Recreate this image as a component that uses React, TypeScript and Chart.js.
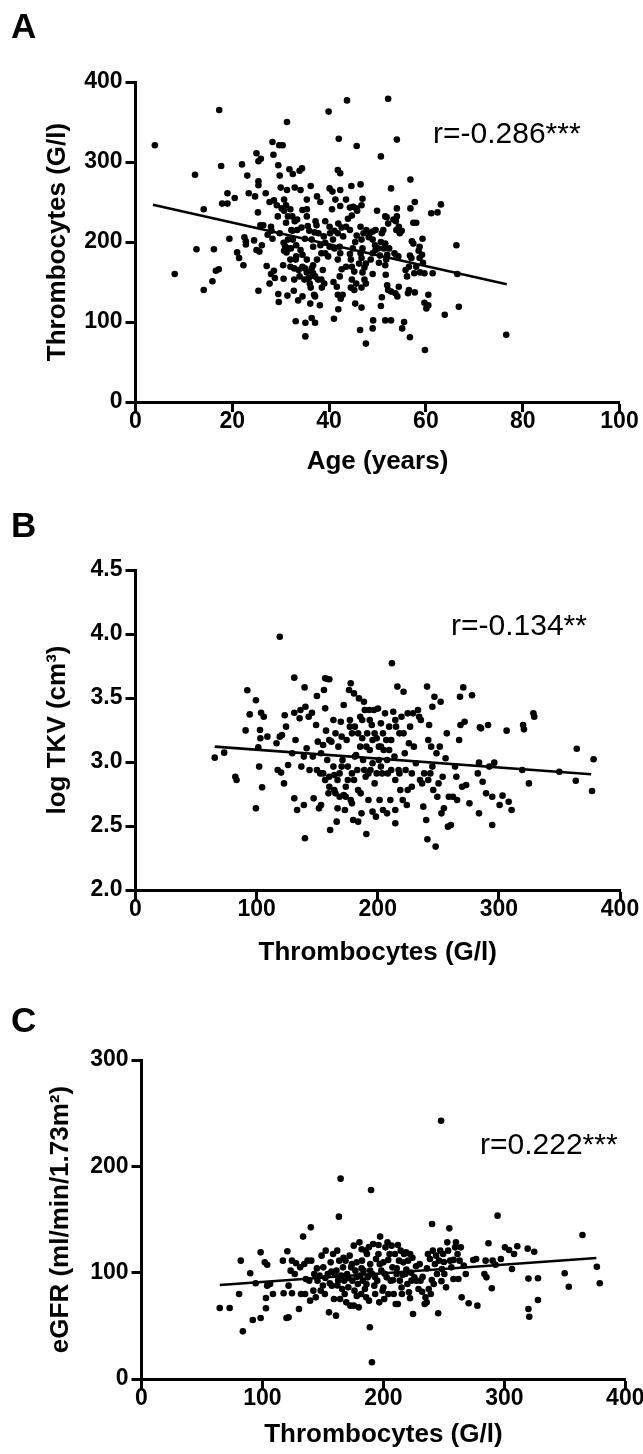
import React, { useEffect, useRef } from "react";
import { Chart, registerables } from "chart.js";
Chart.register(...registerables);

const FONT = "'Liberation Sans', Arial, Helvetica, sans-serif";

// ---------- Panel A: Age (years) vs Thrombocytes (G/l) ----------
const xTicksA = [0, 20, 40, 60, 80, 100];
const yTicksA = [0, 100, 200, 300, 400];
const pointsA: [number, number][] = [
  [4,321],[17.3,365],[31.3,350],[39.9,363],[43.7,377],[52.2,379],[42,329],[45.7,320],[54,328],[50.7,307],
  [12.3,284],[17.7,295],[22,297],[23.1,283],[25,311],[25.4,301],[25.9,304],[28.3,325],[28.5,309],[29.7,321],
  [30.4,321],[29.5,296],[29.8,283],[31.8,291],[32.5,285],[34.4,292],[33.9,289],[41.8,290],[42.3,286],[52.8,267],
  [56.8,278],[46.5,272],[44.6,270],[30,268],[31.3,265],[32.9,268],[34.1,265],[36.2,270],[25.4,276],[25.4,271],
  [26.9,261],[19,261],[20.5,255],[19,248],[17.9,248],[14.1,241],[24.7,257],[25.3,237],[27.7,250],[28.6,252],
  [29.2,246],[30.2,242],[30.7,239],[31.1,246],[32,241],[35.4,253],[35.4,241],[34.5,240],[37.5,257],[38.2,250],
  [40.6,241],[40.1,267],[40.7,263],[42.3,265],[41.3,253],[43.5,253],[42.3,245],[44.3,243],[45.6,242],[46.9,254],
  [46.7,246],[49.9,239],[51.6,232],[52.2,223],[54,242],[54,232],[53.8,226],[55,214],[56.8,242],[57.7,250],
  [57.4,224],[58,224],[61.1,236],[62.4,237],[63.1,247],[59.3,204],[57.4,198],[58.5,189],[59.4,174],[66.3,196],
  [66.5,160],[66.8,119],[63.9,109],[59.7,124],[60.1,117],[60.5,121],[60.5,134],[61.4,161],[59.7,161],[58.8,162],
  [59.8,65],[76.6,84],[56.7,81],[55.5,100],[55.1,92],[52.8,102],[51.6,102],[49,92],[49.1,102],[47.6,73],
  [46.4,90],[46.7,118],[45.4,123],[41,104],[41.9,116],[35.1,82],[35.1,99],[36.4,105],[37.1,99],[33.1,101],
  [33.6,127],[34.5,132],[36.1,123],[36.9,134],[38.1,121],[29.5,135],[29.6,125],[31.4,133],[32.7,139],[25.4,139],
  [14.1,140],[8.1,160],[12.6,191],[16.2,191],[15.9,151],[16.6,164],[17.2,166],[19.4,204],[21,187],[21.4,180],
  [22.3,171],[22.5,206],[22.8,201],[22.8,197],[24.5,202],[25,190],[25.6,188],[26.1,196],[25.8,221],[26.4,221],
  [27.3,209],[28,219],[28.3,204],[28.1,214],[27.1,170],[27.7,148],[28.6,164],[28.8,155],[28,160],
  [30.5,171],[30.6,154],[31.2,187],[31.5,192],[30.6,199],[30.7,189],[32,178],[32.1,192],[33.1,178],[32.8,153],
  [33.9,157],[34.9,153],[36,148],[32.2,215],[32.9,226],[33.4,215],[34.3,218],[35.6,220],[35.9,214],[35,204],
  [36.4,203],[37.2,226],[37.4,221],[37,212],[37.8,211],[38.9,207],[39.2,226],[40.1,219],[40.2,211],[38.4,186],
  [39.2,186],[39.8,182],[37.5,178],[36.7,171],[36.4,167],[35,167],[34.5,169],[35.4,162],[36.7,161],[37.1,157],
  [35.8,155],[37.7,153],[38.4,153],[38.7,165],[39,148],[38.5,143],[36.2,143],[37.1,132],
  [40.9,150],[41.6,144],[41.8,134],[42.4,129],[42.8,134],[42.2,157],[42.6,166],[43.5,169],[41.8,178],[42.3,186],
  [41.1,192],[42.2,194],[42.9,207],[42.6,218],[41.9,223],[43.5,219],[44.3,215],[43.9,229],[44.7,233],[45,244],
  [45.8,239],[45.7,208],[45.4,200],[44.9,192],[44.3,185],[44.5,178],[44.7,169],[45.2,163],[44.7,153],[45.6,148],
  [44.5,143],[45.2,140],[46.2,173],[46.7,180],[46.5,186],[46.9,192],[46.7,203],[47.1,211],[46.5,219],[47.7,215],
  [48.2,206],[48.4,211],[49,213],[49.6,215],[49,203],[49.5,196],[49.6,190],[49,186],[48.6,178],[47.6,173],
  [47.3,168],[46.9,162],[47.3,153],[47.6,148],[46.7,143],[49,160],[50.3,174],[50.5,183],[50.1,192],[50.7,200],
  [51.3,192],[51.6,198],[52.4,192],[52,184],[51.8,178],[51.6,171],[51.2,215],[51.9,231],[50.9,211],[53.5,186],
  [53.9,183],[54.3,182],[53.3,228],[54.4,219],[54.6,211],[53.9,215],[52,146],[52.2,140],[52.8,138],[53.7,136],
  [54.4,144],[54.1,132],[51.7,159],[50.9,131],[50.7,120],[55.8,165],[56.1,157],[56.5,169],[56.7,183],[57,180],
  [56.5,140],[56.3,136],[57.7,137],[58,169],[57.6,161],[57.1,201],
  [58.7,180],[59.2,184],[58.7,194],[23.4,261],[31.5,232],[30.7,253],[32.4,232],[29.4,232],[35.4,232],[33.4,228],
  [31.1,224],[32.4,214],[29.8,211],[31.5,203],[30.9,195],[32.5,203],[33.2,196],[34.1,190],[34.5,184],[33.2,182],
  [32,169],[32.8,167],[33.7,165],[35.4,178],[36.7,194],[38.2,196],[39.2,199],[40.1,194],[40.8,203],[41.1,214],
  [41.8,211],
];
const fitA: [number, number][] = [[3.6, 246.6], [76.7, 147.1]];

// ---------- Panel B: Thrombocytes (G/l) vs log TKV ----------
const xTicksB = [0, 100, 200, 300, 400];
const yTicksB = [2.0, 2.5, 3.0, 3.5, 4.0, 4.5];
const pointsB: [number, number][] = [
  [65.4,3.034],[73.2,3.073],[82.4,2.885],[83.4,2.859],[92.3,3.56],[94.3,3.372],[90.9,3.247],[99.4,3.482],[99.4,2.638],[101.4,3.115],
  [102.1,2.964],[103.7,3.385],[105.9,3.354],[102.8,3.25],[103.1,3.185],[108.9,3.198],[104.5,2.802],[116.4,3.146],[119.1,3.198],[120.9,3.211],
  [119.1,3.979],[123.2,3.365],[124.3,3.276],[122.6,2.833],[120.2,2.917],[117.4,2.938],[126,2.977],[129.4,3.068],[131.1,3.659],[132.1,3.172],
  [131.1,3.385],[131.1,2.716],[133.4,2.625],[135.5,3.341],[136.2,3.406],[136.9,2.964],[139,2.664],[139.6,3.583],[139.9,2.404],[140.3,3.432],
  [139,3.042],[141.3,3.107],[143,3.354],[143.7,2.938],[145.7,3.385],[147.1,2.716],[149.1,3.289],[149.8,3.516],[150.5,3.159],[151.5,2.638],
  [152.5,2.911],[153.2,3.068],[153.2,2.664],[154.9,3.133],[155.6,3.562],[156.6,3.419],[156.6,3.654],[158.3,3.648],[160,3.646],[157.3,3.245],
  [156.6,2.859],[158.3,3.016],[159.3,2.755],[160,3.172],[161.7,3.159],[160.7,2.469],[163.4,3.328],[164.1,2.898],[165.1,3.224],[166.1,2.534],
  [165.1,2.755],[166.8,2.638],[167.5,3.12],[168.5,2.911],[169.5,3.315],[170.2,3.198],[170.9,3.016],[171.9,3.445],[171.9,2.742],[172.9,2.625],
  [173.6,2.807],[174.3,3.172],[175.3,2.964],[176.3,3.562],[177,3.328],[177.7,3.615],[177.7,2.703],[178.7,2.677],[179.7,2.547],[180.4,3.536],
  [181.1,3.276],[182.1,3.055],[183.1,2.938],[183.8,2.534],[184.5,3.497],[185.5,3.354],[185.9,2.755],[186.6,2.599],[187.2,3.185],[187.9,3.016],
  [188.6,3.471],[189.3,3.406],[190,2.885],[190.6,2.438],[191.3,3.224],[192.3,2.703],[193,3.406],[193.4,3.094],[194,2.938],[195.1,3.289],
  [195.7,2.612],[196.8,3.406],[197.4,2.833],[198.5,2.573],[199.1,3.185],[200.2,3.417],[200.9,3.016],[201.5,2.703],[202.6,3.302],[203.6,2.911],
  [204.3,2.625],[204.9,3.094],[206,3.38],[207,3.172],[207.7,2.599],[208.3,2.911],[209.4,3.276],[210.4,2.703],[211.7,3.771],[212.8,3.393],
  [213.8,3.042],[214.5,2.625],[215.1,3.276],[216.2,3.589],[214.5,2.521],[217.2,2.938],[217.9,3.224],[218.6,2.781],[219.6,3.354],[220.6,2.703],
  [221.3,3.549],[222.3,3.068],[223,2.938],[224,2.664],[224.7,3.38],[225.7,3.146],[226.7,3.276],[228.1,2.807],[229.1,3.38],[229.8,3.12],
  [231.5,2.99],[233.2,3.406],[234.2,3.354],[235.6,3.328],[236.6,2.833],[237.6,2.651],[238.3,2.911],[240,2.547],[240.7,3.589],[241,2.396],
  [241.7,3.172],[242.4,3.289],[243.4,2.911],[244.1,3.12],[245.1,3.432],[245.8,2.781],[246.8,3.51],[247.8,2.339],[248.5,3.068],[249.2,2.729],
  [250.2,2.833],[251.2,3.12],[251.9,3.471],[252.6,2.599],[253.6,2.885],[254.6,2.638],[256,3.029],[257,3.224],[258,2.495],[258.7,2.729],
  [260.4,2.508],[262.1,2.729],[263.8,2.964],[264.9,2.885],[265.5,2.703],[267.2,3.172],[267.9,3.51],[268.3,3.289],[269.6,2.807],[270.6,3.583],
  [271.7,3.315],[273,2.82],[275.7,2.677],[277.8,3.521],[282.6,2.911],[283.6,2.995],[284.3,3.271],[285.3,3.263],[286.6,2.846],[283.6,2.599],
  [289.4,2.755],[291.1,3.289],[292.1,2.964],[294.5,2.729],[294.5,2.508],[296.2,2.995],[300.6,2.664],[303,2.737],[306.4,3.245],[308.1,2.69],
  [310.5,2.625],[319.3,2.938],[320,3.289],[320.7,3.255],[324.8,2.833],[328.5,3.38],[329.2,3.354],[349.9,2.924],[363.5,2.854],[364.3,3.104],
  [376.9,2.773],[378.2,3.021],
  [170.2,2.964],[175.3,2.859],[180.4,2.859],[183.8,2.781],[188.9,2.938],[192.3,2.911],[195.7,2.99],[199.1,2.911],[202.6,2.964],[207.7,3.016],
  [211.1,2.938],[214.5,2.859],[217.9,2.911],[224.7,2.781],[228.1,2.911],[234.9,2.859],[241.7,2.859],[245.1,2.964],
  [146.4,3.042],[149.8,2.938],[154.9,2.911],[160,2.885],[163.4,2.964],[166.8,2.859],[160,2.807],[164.1,2.781],[168.5,2.729],[173.6,2.729],
  [178.7,2.911],[181.1,3.042],[185.5,3.12],[190.6,3.12],[195.7,3.172],[200.9,3.12],[204.3,3.224],[211.1,3.172],[214.5,3.328],[221.3,3.224],
  [177,3.276],[178.7,3.224],[183.8,3.224],[187.2,3.328],[193.4,3.328],[197.4,3.224],[202.6,3.12],[209.4,3.094],
];
const fitB: [number, number][] = [[65.4, 3.12], [376.2, 2.904]];

// ---------- Panel C: Thrombocytes (G/l) vs eGFR ----------
const xTicksC = [0, 100, 200, 300, 400];
const yTicksC = [0, 100, 200, 300];
const pointsC: [number, number][] = [
  [64.7,66.8],[72.9,66.8],[80.7,79.9],[82.1,111.3],[83.8,44.8],[89.9,99.4],[92,55.5],[94.4,90],[98.5,119.1],[98.5,57.4],
  [101.9,109.7],[102.9,66.5],[102.9,76.2],[103.9,107.5],[103.9,87.8],[106.3,89.3],[108.7,79.9],[116.9,111.3],[117.5,80.6],[119.9,57.4],
  [121.6,58],[120.6,120.1],[121.6,87.8],[123.3,101.9],[124.4,80.6],[124.4,111.3],[126.7,98.7],[127.8,108.8],[130.2,65.8],[131.2,105],
  [131.9,79.9],[133.6,133.9],[134.6,108.2],[135.3,79.9],[135.9,94],[137.3,111.3],[138.7,92.5],[139.4,73.7],[140,142.6],[140.4,111.3],
  [142.1,83.1],[142.8,98.7],[144.1,76.8],[145.5,92.5],[147.2,97.2],[148.2,83.1],[148.9,116],[150.3,105],[151.6,79.9],[152.3,120.7],
  [154,98.7],[155,62.7],[155.7,90],[156.4,109.7],[157.4,87.8],[158.4,117.6],[159.1,75.2],[159.8,98.7],[160.8,59.6],[161.2,101.9],
  [161.8,120.7],[162.5,92.5],[163.2,152.7],[163.5,111.3],[164.2,75.2],[164.6,188.4],[165.2,97.2],[165.9,84.6],[166.6,105],[167.6,92.5],
  [168.7,111.3],[169.3,72.1],[170,98.7],[171,86.2],[172.1,116],[172.7,69],[173.4,105],[174.4,92.5],[175.5,125.4],[175.5,69],
  [176.1,83.1],[176.8,101.9],[177.9,109.7],[178.9,89.3],[179.6,67.4],[180.2,128.5],[180.9,97.2],[181.6,79.9],[182.3,111.3],[183,92.5],
  [183.6,101.9],[184.7,84.6],[185.3,120.7],[185.7,76.8],[186.4,117.6],[187,95.6],[188.1,73.7],[188.8,48.6],[189.8,177.7],[190.5,15.7],
  [189.1,108.2],[190.8,98.7],[191.5,127],[192.5,87.8],[193.2,79.9],[193.9,112.9],[194.9,92.5],[195.9,117.6],[196.6,72.1],[197.3,133.9],
  [198.3,101.9],[199.3,83.1],[200,109.7],[200.7,75.2],[201.7,123.8],[202.7,95.6],[203.4,128.5],[204.1,79.9],[205.1,117.6],[206.1,92.5],
  [206.8,125.4],[207.5,105],[208.5,79.9],[209.5,117.6],[210.2,70.5],[210.9,98.7],[211.9,70.5],[212.9,111.3],[213.6,92.5],[214.3,120.7],
  [215.3,79.9],[216.4,109.7],[217,117.6],[218.1,98.7],[218.7,119.1],[219.8,89.3],[220.4,111.3],[221.1,81.5],[222.1,117.6],[223.2,92.5],
  [224.5,61.1],[225.6,95.6],[227.3,92.5],[229,84.6],[230.7,92.5],[232.4,96],[234.1,70.5],[234.8,76.8],[235.8,72.1],[236.8,117.6],
  [237.5,84.6],[238.5,112.9],[239.2,79.9],[240.2,145.8],[240.9,120.7],[241.6,89.3],[242.6,108.2],[243.6,116],[244.3,98.7],[245.3,61.8],
  [246,111.3],[247,120.7],[247.7,242.9],[248.4,103.4],[249.4,117.6],[250.4,98.7],[251.8,86.2],[252.8,128.5],[253.5,120.7],[254.5,141.7],
  [255.2,111.3],[256.2,105],[257.9,94],[259.3,123.8],[260,128.5],[261.3,117.6],[262,94],[263,111.3],[264,123.8],[264.7,76.8],
  [266.4,106.6],[268.1,98.7],[270.5,71.2],[274.3,111.9],[276.7,112.9],[277.7,69],[283.5,98.7],[284.5,111.3],[285.2,95.6],[286.9,127.6],
  [289.6,85.3],[290.3,111.3],[292.7,107.5],[294.4,153.6],[297.1,112.9],[300.5,123.8],[303.9,121.3],[306.3,103.4],[308,117.6],[310.7,124.8],
  [319.3,122.6],[319.9,94.4],[319.9,65.8],[320.6,58.6],[324.7,119.7],[327.8,94.7],[327.8,74.3],[349.9,99.4],[353.3,86.8],[364.6,135.4],
  [376.5,105.6],[378.9,90],
  [152,95],[157,101],[162,88],[167,114],[171,95],[174,108],[178,96],[182,104],[186,89],[189,102],
  [193,96],[197,108],[201,99],[204,112],[208,93],[211,104],[216,98],[219,103],[223,100],[227,106],
  [182,122],[188,124],[196,126],[212,126],[224,114],[230,108],[236,104],[250,110],[258,112],[145,104],
  [150,88],[168,80],[178,78],[200,86],[215,86],[222,76],[240,93],[248,92],[232,82],
];
const fitC: [number, number][] = [[64.7, 88.4], [376.1, 113.8]];

type PanelCfg = {
  letter: string;
  top: number;
  height: number;
  points: [number, number][];
  fit: [number, number][];
  xTicks: number[];
  yTicks: number[];
  yDecimals: number;
  xTitle: string;
  yTitle: string;
  rText: string;
  area: { left: number; right: number; top: number; bottom: number };
  yTitlePad: number;
  xTitlePad: number;
  letterY: number;
  rX: number;
  rY: number;
};

const W = 643;

const panels: PanelCfg[] = [
  {
    letter: "A", top: 0, height: 485, points: pointsA, fit: fitA,
    xTicks: xTicksA, yTicks: yTicksA, yDecimals: 0,
    xTitle: "Age (years)", yTitle: "Thrombocytes (G/l)", rText: "r=-0.286***",
    area: { left: 135.5, right: 619.5, top: 82, bottom: 402 },
    yTitlePad: 42, xTitlePad: 7.4, letterY: 38, rX: 433, rY: 143,
  },
  {
    letter: "B", top: 485, height: 485, points: pointsB, fit: fitB,
    xTicks: xTicksB, yTicks: yTicksB, yDecimals: 1,
    xTitle: "Thrombocytes (G/l)", yTitle: "log TKV (cm\u00B3)", rText: "r=-0.134**",
    area: { left: 135.5, right: 620, top: 85, bottom: 405 },
    yTitlePad: 42.4, xTitlePad: 1.4, letterY: 52, rX: 451, rY: 150,
  },
  {
    letter: "C", top: 970, height: 484, points: pointsC, fit: fitC,
    xTicks: xTicksC, yTicks: yTicksC, yDecimals: 0,
    xTitle: "Thrombocytes (G/l)", yTitle: "eGFR (ml/min/1.73m\u00B2)", rText: "r=0.222***",
    area: { left: 141.5, right: 625.3, top: 90, bottom: 409 },
    yTitlePad: 45, xTitlePad: 3.4, letterY: 62, rX: 480, rY: 184,
  },
];

function Panel({ cfg }: { cfg: PanelCfg }) {
  const ref = useRef<HTMLCanvasElement | null>(null);
  useEffect(() => {
    const canvas = ref.current;
    if (!canvas) return;
    const H = cfg.height;
    const a = cfg.area;
    const xs = cfg.xTicks;
    const ys = cfg.yTicks;
    const annot = {
      id: "annot" + cfg.letter,
      afterDraw(chart: any) {
        const ctx = chart.ctx;
        ctx.save();
        ctx.fillStyle = "#000";
        ctx.textAlign = "left";
        ctx.textBaseline = "alphabetic";
        ctx.font = `bold 35px ${FONT}`;
        ctx.fillText(cfg.letter, 11, cfg.letterY);
        ctx.font = `30px ${FONT}`;
        ctx.fillText(cfg.rText, cfg.rX, cfg.rY);
        ctx.restore();
      },
    };
    const tickFont = { family: FONT, size: 23, weight: "bold" as const, lineHeight: 1 };
    const titleFont = { family: FONT, size: 26, weight: "bold" as const, lineHeight: 1.2 };
    const chart = new Chart(canvas, {
      type: "scatter",
      data: {
        datasets: [
          {
            data: cfg.points.map(([x, y]) => ({ x, y })),
            pointRadius: 3.3,
            pointHoverRadius: 3.3,
            backgroundColor: "#000",
            borderColor: "#000",
            borderWidth: 0,
          },
          {
            data: cfg.fit.map(([x, y]) => ({ x, y })),
            showLine: true,
            borderColor: "#000",
            borderWidth: 2.6,
            pointRadius: 0,
            fill: false,
          } as any,
        ],
      },
      options: {
        responsive: false,
        animation: false,
        devicePixelRatio: 1,
        events: [],
        layout: { padding: { left: 0, top: a.top, right: W - a.right, bottom: 0 } },
        plugins: { legend: { display: false }, tooltip: { enabled: false } },
        scales: {
          x: {
            type: "linear",
            min: xs[0],
            max: xs[xs.length - 1],
            afterBuildTicks: (s: any) => { s.ticks = xs.map((v) => ({ value: v })); },
            ticks: { font: tickFont, color: "#000", padding: -2, maxRotation: 0, autoSkip: false },
            grid: { drawOnChartArea: false, drawTicks: true, tickLength: 10, tickWidth: 3, tickColor: "#000", color: "#000" },
            border: { display: true, color: "#000", width: 3 },
            title: { display: true, text: cfg.xTitle, color: "#000", font: titleFont, padding: { top: 0, bottom: cfg.xTitlePad } },
            afterFit: (s: any) => { s.height = H - a.bottom; s.paddingLeft = 0; s.paddingRight = 0; },
          },
          y: {
            type: "linear",
            min: ys[0],
            max: ys[ys.length - 1],
            afterBuildTicks: (s: any) => { s.ticks = ys.map((v) => ({ value: v })); },
            ticks: {
              font: tickFont, color: "#000", padding: 3, autoSkip: false,
              callback: (v: any) => Number(v).toFixed(cfg.yDecimals),
            },
            grid: { drawOnChartArea: false, drawTicks: true, tickLength: 10, tickWidth: 3, tickColor: "#000", color: "#000" },
            border: { display: true, color: "#000", width: 3 },
            title: { display: true, text: cfg.yTitle, color: "#000", font: titleFont, padding: { top: cfg.yTitlePad, bottom: 0 } },
            afterFit: (s: any) => { s.width = a.left; s.paddingTop = 0; s.paddingBottom = 0; },
          },
        },
      },
      plugins: [annot],
    });
    return () => chart.destroy();
  }, [cfg]);
  return (
    <canvas
      ref={ref}
      width={W}
      height={cfg.height}
      style={{ position: "absolute", left: 0, top: cfg.top, width: W, height: cfg.height, display: "block" }}
    />
  );
}

export default function App() {
  return (
    <div style={{ position: "absolute", left: 0, top: 0, width: W, height: 1454, background: "#fff", overflow: "hidden" }}>
      {panels.map((p) => (
        <Panel key={p.letter} cfg={p} />
      ))}
    </div>
  );
}
